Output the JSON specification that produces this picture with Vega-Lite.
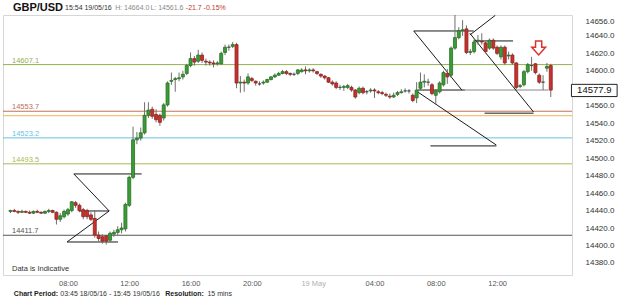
{
"$schema":"https://vega.github.io/schema/vega-lite/v6.json",
"width":569,"height":260,
"autosize":{"type":"none"},
"padding":{"left":3,"top":15,"right":53,"bottom":27},
"background":"white",
"config":{"view":{"stroke":"#d6d6d6","strokeWidth":1},"font":"Liberation Sans","axis":{"grid":false,"domain":false,"ticks":false},"axisY":{"labelOverlap":false},"axisRight":{"labelOverlap":false}},
"datasets":{
"candles":[
{"t":4.25,"o":14439,"h":14441,"l":14437,"c":14440},
{"t":4.5,"o":14440,"h":14442,"l":14438,"c":14439},
{"t":4.75,"o":14439,"h":14440,"l":14436,"c":14438},
{"t":5.0,"o":14438,"h":14441,"l":14437,"c":14439},
{"t":5.25,"o":14439,"h":14440,"l":14437,"c":14438},
{"t":5.5,"o":14438,"h":14440,"l":14436,"c":14437},
{"t":5.75,"o":14437,"h":14440,"l":14436,"c":14439},
{"t":6.0,"o":14439,"h":14441,"l":14437,"c":14438},
{"t":6.25,"o":14438,"h":14439,"l":14436,"c":14437},
{"t":6.5,"o":14437,"h":14440,"l":14436,"c":14439},
{"t":6.75,"o":14439,"h":14442,"l":14437,"c":14440},
{"t":7.0,"o":14440,"h":14441,"l":14437,"c":14438},
{"t":7.25,"o":14438,"h":14439,"l":14424,"c":14430},
{"t":7.5,"o":14430,"h":14437,"l":14427,"c":14434},
{"t":7.75,"o":14433,"h":14441,"l":14431,"c":14439},
{"t":8.0,"o":14436,"h":14443,"l":14434,"c":14441},
{"t":8.25,"o":14440,"h":14451,"l":14438,"c":14450},
{"t":8.5,"o":14449,"h":14451,"l":14443,"c":14446},
{"t":8.75,"o":14446,"h":14448,"l":14438,"c":14440},
{"t":9.0,"o":14441,"h":14443,"l":14430,"c":14433},
{"t":9.25,"o":14440,"h":14442,"l":14430,"c":14433},
{"t":9.5,"o":14435,"h":14438,"l":14428,"c":14430},
{"t":9.75,"o":14431,"h":14440,"l":14409,"c":14412},
{"t":10.0,"o":14412,"h":14416,"l":14405,"c":14408},
{"t":10.25,"o":14410,"h":14413,"l":14402,"c":14405},
{"t":10.5,"o":14411,"h":14412,"l":14401,"c":14405},
{"t":10.75,"o":14406,"h":14416,"l":14404,"c":14414},
{"t":11.0,"o":14413,"h":14418,"l":14410,"c":14415},
{"t":11.25,"o":14415,"h":14422,"l":14412,"c":14418},
{"t":11.5,"o":14418,"h":14426,"l":14414,"c":14420},
{"t":11.75,"o":14419,"h":14449,"l":14416,"c":14447},
{"t":12.0,"o":14446,"h":14480,"l":14444,"c":14478},
{"t":12.25,"o":14478,"h":14536,"l":14476,"c":14521},
{"t":12.5,"o":14521,"h":14530,"l":14516,"c":14523},
{"t":12.75,"o":14523,"h":14535,"l":14520,"c":14529},
{"t":13.0,"o":14529,"h":14564,"l":14527,"c":14549},
{"t":13.25,"o":14549,"h":14564,"l":14546,"c":14555},
{"t":13.5,"o":14556,"h":14559,"l":14545,"c":14548},
{"t":13.75,"o":14550,"h":14556,"l":14541,"c":14544},
{"t":14.0,"o":14549,"h":14551,"l":14537,"c":14541},
{"t":14.25,"o":14546,"h":14563,"l":14543,"c":14561},
{"t":14.5,"o":14561,"h":14588,"l":14559,"c":14586},
{"t":14.75,"o":14588,"h":14598,"l":14584,"c":14589},
{"t":15.0,"o":14590,"h":14593,"l":14576,"c":14591},
{"t":15.25,"o":14591,"h":14598,"l":14588,"c":14592},
{"t":15.5,"o":14593,"h":14600,"l":14590,"c":14596},
{"t":15.75,"o":14597,"h":14608,"l":14595,"c":14606},
{"t":16.0,"o":14606,"h":14621,"l":14604,"c":14614},
{"t":16.25,"o":14614,"h":14617,"l":14606,"c":14610},
{"t":16.5,"o":14611,"h":14624,"l":14609,"c":14618},
{"t":16.75,"o":14618,"h":14621,"l":14609,"c":14612},
{"t":17.0,"o":14611,"h":14614,"l":14606,"c":14610},
{"t":17.25,"o":14610,"h":14612,"l":14606,"c":14609},
{"t":17.5,"o":14609,"h":14612,"l":14604,"c":14608},
{"t":17.75,"o":14608,"h":14611,"l":14606,"c":14609},
{"t":18.0,"o":14608,"h":14622,"l":14607,"c":14620},
{"t":18.25,"o":14621,"h":14630,"l":14618,"c":14627},
{"t":18.5,"o":14627,"h":14630,"l":14623,"c":14627},
{"t":18.75,"o":14628,"h":14633,"l":14626,"c":14630},
{"t":19.0,"o":14630,"h":14632,"l":14580,"c":14586},
{"t":19.25,"o":14586,"h":14594,"l":14575,"c":14587},
{"t":19.5,"o":14587,"h":14590,"l":14576,"c":14586},
{"t":19.75,"o":14586,"h":14597,"l":14584,"c":14593},
{"t":20.0,"o":14591,"h":14593,"l":14587,"c":14589},
{"t":20.25,"o":14588,"h":14589,"l":14583,"c":14586},
{"t":20.5,"o":14585,"h":14588,"l":14583,"c":14585},
{"t":20.75,"o":14586,"h":14589,"l":14584,"c":14587},
{"t":21.0,"o":14587,"h":14591,"l":14586,"c":14590},
{"t":21.25,"o":14590,"h":14594,"l":14589,"c":14593},
{"t":21.5,"o":14593,"h":14597,"l":14592,"c":14595},
{"t":21.75,"o":14595,"h":14599,"l":14594,"c":14597},
{"t":22.0,"o":14597,"h":14601,"l":14596,"c":14599},
{"t":22.25,"o":14599,"h":14601,"l":14595,"c":14597},
{"t":22.5,"o":14597,"h":14598,"l":14594,"c":14596},
{"t":22.75,"o":14596,"h":14598,"l":14594,"c":14596},
{"t":23.0,"o":14597,"h":14602,"l":14595,"c":14601},
{"t":23.25,"o":14599,"h":14603,"l":14598,"c":14601},
{"t":23.5,"o":14601,"h":14605,"l":14596,"c":14600},
{"t":23.75,"o":14600,"h":14603,"l":14598,"c":14601},
{"t":24.0,"o":14601,"h":14603,"l":14598,"c":14600},
{"t":24.25,"o":14599,"h":14600,"l":14595,"c":14597},
{"t":24.5,"o":14596,"h":14597,"l":14592,"c":14594},
{"t":24.75,"o":14594,"h":14595,"l":14590,"c":14592},
{"t":25.0,"o":14592,"h":14593,"l":14586,"c":14587},
{"t":25.25,"o":14587,"h":14589,"l":14583,"c":14585},
{"t":25.5,"o":14586,"h":14588,"l":14579,"c":14581},
{"t":25.75,"o":14581,"h":14584,"l":14578,"c":14581},
{"t":26.0,"o":14581,"h":14584,"l":14577,"c":14582},
{"t":26.25,"o":14581,"h":14585,"l":14579,"c":14583},
{"t":26.5,"o":14581,"h":14583,"l":14576,"c":14578},
{"t":26.75,"o":14578,"h":14579,"l":14568,"c":14570},
{"t":27.0,"o":14575,"h":14582,"l":14573,"c":14580},
{"t":27.25,"o":14580,"h":14582,"l":14573,"c":14575},
{"t":27.5,"o":14576,"h":14578,"l":14573,"c":14576},
{"t":27.75,"o":14577,"h":14580,"l":14575,"c":14578},
{"t":28.0,"o":14578,"h":14580,"l":14569,"c":14577},
{"t":28.25,"o":14576,"h":14578,"l":14573,"c":14575},
{"t":28.5,"o":14575,"h":14577,"l":14572,"c":14574},
{"t":28.75,"o":14573,"h":14575,"l":14570,"c":14572},
{"t":29.0,"o":14571,"h":14574,"l":14568,"c":14570},
{"t":29.25,"o":14570,"h":14575,"l":14569,"c":14572},
{"t":29.5,"o":14573,"h":14577,"l":14571,"c":14575},
{"t":29.75,"o":14575,"h":14579,"l":14574,"c":14576},
{"t":30.0,"o":14577,"h":14580,"l":14575,"c":14577},
{"t":30.25,"o":14577,"h":14579,"l":14574,"c":14577},
{"t":30.5,"o":14572,"h":14574,"l":14564,"c":14566},
{"t":30.75,"o":14569,"h":14587,"l":14563,"c":14578},
{"t":31.0,"o":14580,"h":14598,"l":14578,"c":14587},
{"t":31.25,"o":14587,"h":14596,"l":14581,"c":14588},
{"t":31.5,"o":14587,"h":14591,"l":14583,"c":14587},
{"t":31.75,"o":14584,"h":14586,"l":14572,"c":14574},
{"t":32.0,"o":14572,"h":14579,"l":14561.6,"c":14577},
{"t":32.25,"o":14576,"h":14588,"l":14574,"c":14586},
{"t":32.5,"o":14584,"h":14600,"l":14582,"c":14598},
{"t":32.75,"o":14597,"h":14602,"l":14585,"c":14593},
{"t":33.0,"o":14595,"h":14628,"l":14592,"c":14626},
{"t":33.25,"o":14626,"h":14664,"l":14624,"c":14638},
{"t":33.5,"o":14638,"h":14650,"l":14636,"c":14646},
{"t":33.75,"o":14646,"h":14658,"l":14640,"c":14647},
{"t":34.0,"o":14648,"h":14652,"l":14619,"c":14621},
{"t":34.25,"o":14621,"h":14625,"l":14618,"c":14622},
{"t":34.5,"o":14622,"h":14636,"l":14620,"c":14633},
{"t":34.75,"o":14634,"h":14641,"l":14630,"c":14635},
{"t":35.0,"o":14634,"h":14643,"l":14630,"c":14633},
{"t":35.25,"o":14632,"h":14634,"l":14620,"c":14622},
{"t":35.5,"o":14626,"h":14637,"l":14624,"c":14635},
{"t":35.75,"o":14635,"h":14637,"l":14624,"c":14626},
{"t":36.0,"o":14627,"h":14629,"l":14618,"c":14620},
{"t":36.25,"o":14616,"h":14629,"l":14613,"c":14627},
{"t":36.5,"o":14627,"h":14629,"l":14607,"c":14609},
{"t":36.75,"o":14617,"h":14622,"l":14613,"c":14618},
{"t":37.0,"o":14618,"h":14620,"l":14607,"c":14609},
{"t":37.25,"o":14609,"h":14610,"l":14579,"c":14581},
{"t":37.5,"o":14582,"h":14585,"l":14580,"c":14583},
{"t":37.75,"o":14584,"h":14601,"l":14582,"c":14599},
{"t":38.0,"o":14599,"h":14609,"l":14597,"c":14607},
{"t":38.25,"o":14606,"h":14616,"l":14600,"c":14606},
{"t":38.5,"o":14608,"h":14609,"l":14596,"c":14598},
{"t":38.75,"o":14595,"h":14597,"l":14585,"c":14587},
{"t":39.0,"o":14587,"h":14595,"l":14578,"c":14587},
{"t":39.25,"o":14603,"h":14609,"l":14599,"c":14605},
{"t":39.5,"o":14606,"h":14608,"l":14570,"c":14577.9}
],
"levels":[
{"level":"a","p":14607.1,"label":"14607.1"},
{"level":"b","p":14553.7,"label":"14553.7"},
{"level":"c","p":14548.6,"label":""},
{"level":"d","p":14523.2,"label":"14523.2"},
{"level":"e","p":14493.5,"label":"14493.5"},
{"level":"f","p":14411.7,"label":"14411.7"}
],
"lines":[
{"t1":8.385,"p1":14481.9,"t2":12.81,"p2":14481.9,"kind":"dark"},
{"t1":8.385,"p1":14481.9,"t2":10.69,"p2":14439.5,"kind":"dark"},
{"t1":8.71,"p1":14439.5,"t2":10.69,"p2":14439.5,"kind":"dark"},
{"t1":10.69,"p1":14439.5,"t2":7.94,"p2":14404,"kind":"dark"},
{"t1":7.94,"p1":14404,"t2":11.27,"p2":14404,"kind":"dark"},
{"t1":30.56,"p1":14645.6,"t2":34.47,"p2":14645.6,"kind":"dark"},
{"t1":30.56,"p1":14645.6,"t2":33.7,"p2":14578,"kind":"dark"},
{"t1":30.82,"p1":14578,"t2":33.9,"p2":14578,"kind":"dark"},
{"t1":33.9,"p1":14578,"t2":39.35,"p2":14578,"kind":"light"},
{"t1":30.82,"p1":14575.8,"t2":35.95,"p2":14515,"kind":"dark"},
{"t1":31.65,"p1":14514,"t2":35.95,"p2":14514,"kind":"dark"},
{"t1":34.22,"p1":14641,"t2":35.88,"p2":14663.5,"kind":"dark"},
{"t1":34.22,"p1":14643,"t2":38.38,"p2":14552.8,"kind":"dark"},
{"t1":35.18,"p1":14551.5,"t2":38.38,"p2":14551.5,"kind":"dark"},
{"t1":34.47,"p1":14634.2,"t2":37.04,"p2":14634.2,"kind":"dark"}
]
},
"layer":[
{"data":{"name":"levels"},"mark":{"type":"rule","strokeWidth":1},
 "encoding":{
  "y":{"field":"p","type":"quantitative","title":null,"scale":{"domain":[14366.2,14663.9],"nice":false,"zero":false},
   "axis":{"orient":"right","values":[14656,14640,14620,14600,14560,14540,14520,14500,14480,14460,14440,14420,14400,14380],"tickCount":30,"format":".1f","labelPadding":13,"labelFontSize":8,"labelColor":"#333","labelFont":"Liberation Sans","labelOverlap":false,"labelBound":false,"labelFlush":false}},
  "color":{"field":"level","type":"nominal","scale":{"domain":["a","b","c","d","e","f"],"range":["#93b04f","#c0705a","#f2b25c","#67c3df","#a9bb55","#555555"]},"legend":null}}},
{"data":{"name":"levels"},"mark":{"type":"text","align":"left","baseline":"alphabetic","dy":-2,"fontSize":7.5},
 "encoding":{"x":{"datum":4.35,"type":"quantitative"},"y":{"field":"p","type":"quantitative","title":null},"text":{"field":"label"},
  "color":{"field":"level","type":"nominal","legend":null}}},
{"data":{"name":"lines"},"mark":{"type":"rule","strokeWidth":1},
 "encoding":{"x":{"field":"t1","type":"quantitative","title":null},"x2":{"field":"t2"},"y":{"field":"p1","type":"quantitative","title":null},"y2":{"field":"p2"},
  "color":{"condition":{"test":"datum.kind == 'light'","value":"#888888"},"value":"#1a1a1a"}}},
{"data":{"name":"candles"},"mark":{"type":"rule","strokeWidth":1,"color":"#6e6e6e"},
 "encoding":{"x":{"field":"t","type":"quantitative","title":null},"y":{"field":"l","type":"quantitative","title":null},"y2":{"field":"h"}}},
{"data":{"name":"candles"},"mark":{"type":"bar","width":3,"strokeWidth":0.8,"orient":"vertical"},
 "encoding":{
  "x":{"field":"t","type":"quantitative","title":null,"scale":{"domain":[4.09,40.56],"nice":false,"zero":false},
   "axis":{"values":[8,12,16,20,24,28,32,36],"tickCount":30,"labelExpr":"datum.value == 24 ? '19 May' : (((datum.value % 24) < 10) ? '0' : '') + (datum.value % 24) + ':00'",
    "labelColor":{"condition":{"test":"datum.value == 24","value":"#b0b0b0"},"value":"#555555"},"labelFontSize":7.5,"labelPadding":4,"labelFont":"Liberation Sans"}},
  "y":{"field":"o","type":"quantitative","title":null,"scale":{"domain":[14366.2,14663.9],"nice":false,"zero":false},
   "axis":{"orient":"right","values":[14656,14640,14620,14600,14560,14540,14520,14500,14480,14460,14440,14420,14400,14380],"tickCount":30,"format":".1f","labelPadding":13,"labelFontSize":8,"labelColor":"#333","labelFont":"Liberation Sans","labelOverlap":false,"labelBound":false,"labelFlush":false}},
  "y2":{"field":"c"},
  "fill":{"condition":[{"test":"datum.c == datum.o","value":"#999999"},{"test":"datum.c > datum.o","value":"#3a9c35"}],"value":"#c9302c"},
  "stroke":{"condition":[{"test":"datum.c == datum.o","value":"#444444"},{"test":"datum.c > datum.o","value":"#2a6e26"}],"value":"#8c2420"}}},
{"data":{"values":[{"t":38.71,"p":14626.1}]},"mark":{"type":"point","shape":"M -0.45 -1 L 0.45 -1 L 0.45 -0.1 L 1 -0.1 L 0 1 L -1 -0.1 L -0.45 -0.1 Z","size":190,"filled":true,"fill":"white","stroke":"#d9342b","strokeWidth":1.5,"opacity":1},
 "encoding":{"x":{"field":"t","type":"quantitative","title":null},"y":{"field":"p","type":"quantitative","title":null}}},
{"data":{"values":[{"t1":40.85,"t2":43.83,"p1":14570.5,"p2":14584.5}]},"mark":{"type":"rect","fill":"white","stroke":"#222222","strokeWidth":1,"clip":false},
 "encoding":{"x":{"field":"t1","type":"quantitative","title":null},"x2":{"field":"t2"},"y":{"field":"p1","type":"quantitative","title":null},"y2":{"field":"p2"}}},
{"data":{"values":[{"t":42.34,"p":14577.9,"txt":"14577.9"}]},"mark":{"type":"text","align":"center","baseline":"middle","fontSize":9.5,"color":"#111111"},
 "encoding":{"x":{"field":"t","type":"quantitative","title":null},"y":{"field":"p","type":"quantitative","title":null},"text":{"field":"txt"}}},
{"data":{"values":[{"t":4.41,"p":14671.9,"txt":"GBP/USD"}]},"mark":{"type":"text","align":"left","baseline":"middle","fontSize":11,"fontWeight":"bold","color":"#111111"},
 "encoding":{"x":{"field":"t","type":"quantitative","title":null},"y":{"field":"p","type":"quantitative","title":null},"text":{"field":"txt"}}},
{"data":{"values":[{"t":7.81,"p":14671.9,"txt":"15:54 19/05/16","k":"a"},{"t":11.08,"p":14671.9,"txt":"H: 14664.0","k":"b"},{"t":13.38,"p":14671.9,"txt":"L: 14561.6","k":"b"},{"t":15.69,"p":14671.9,"txt":"-21.7","k":"c"},{"t":16.85,"p":14671.9,"txt":"-0.15%","k":"c"}]},
 "mark":{"type":"text","align":"left","baseline":"middle","fontSize":7},
 "encoding":{"x":{"field":"t","type":"quantitative","title":null},"y":{"field":"p","type":"quantitative","title":null},"text":{"field":"txt"},
  "color":{"condition":[{"test":"datum.k == 'a'","value":"#333333"},{"test":"datum.k == 'b'","value":"#8a8a8a"}],"value":"#c0392b"}}},
{"data":{"values":[{"t":4.35,"p":14373,"txt":"Data is Indicative"}]},"mark":{"type":"text","align":"left","baseline":"middle","fontSize":7.5,"color":"#333333"},
 "encoding":{"x":{"field":"t","type":"quantitative","title":null},"y":{"field":"p","type":"quantitative","title":null},"text":{"field":"txt"}}},
{"data":{"values":[{"t":4.47,"p":14344,"txt":"Chart Period:"},{"t":14.35,"p":14344,"txt":"Resolution:"}]},"mark":{"type":"text","align":"left","baseline":"middle","fontSize":7,"fontWeight":"bold","color":"#222222"},
 "encoding":{"x":{"field":"t","type":"quantitative","title":null},"y":{"field":"p","type":"quantitative","title":null},"text":{"field":"txt"}}},
{"data":{"values":[{"t":7.5,"p":14344,"txt":"03:45 18/05/16 - 15:45 19/05/16"},{"t":17.1,"p":14344,"txt":"15 mins"}]},"mark":{"type":"text","align":"left","baseline":"middle","fontSize":7,"color":"#333333"},
 "encoding":{"x":{"field":"t","type":"quantitative","title":null},"y":{"field":"p","type":"quantitative","title":null},"text":{"field":"txt"}}}
]
}
